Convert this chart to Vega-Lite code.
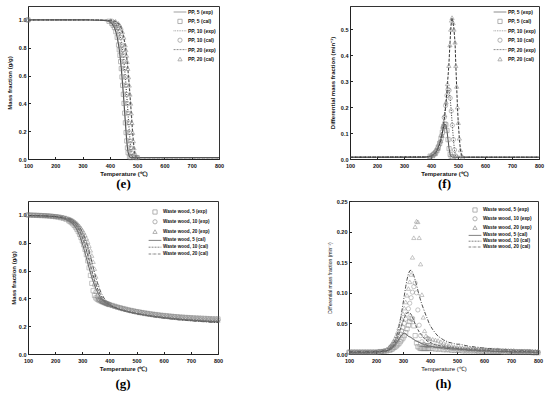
{
"$schema":"https://vega.github.io/schema/vega-lite/v6.json",
"padding":{"left":5,"top":5,"right":0,"bottom":0},
"background":"white",
"spacing":6,
"resolve":{"scale":{"shape":"independent","stroke":"independent","strokeDash":"independent"},"legend":{"shape":"independent","stroke":"independent","strokeDash":"independent"}},
"config":{
 "font":"Liberation Sans",
 "view":{"stroke":"#333","strokeWidth":1},
 "axis":{"grid":false,"labelFont":"Liberation Sans","labelFontSize":5.5,"labelFontWeight":"bold","labelColor":"#111","titleFont":"Liberation Sans","titleFontSize":6,"titleFontWeight":"bold","titleColor":"#111","domainColor":"#222","tickColor":"#222","tickSize":-2.5,"labelPadding":4.5,"labelFlush":false,"titlePadding":3},
 "axisX":{"labelPadding":6.5,"titlePadding":2},
 "legend":{"title":null,"orient":"top-right","offset":3,"symbolSize":18,"symbolStrokeWidth":0.8,"labelFont":"Liberation Sans","labelFontSize":5,"labelFontWeight":"bold","labelColor":"#111","labelOffset":5,"rowPadding":2.4,"padding":0}
},
"datasets":{
"pe":[
{"e":"e5","c":"c5","T":100,"v":1},{"e":"e5","c":"c5","T":300,"v":1},{"e":"e5","c":"c5","T":350,"v":0.999},{"e":"e5","c":"c5","T":380,"v":0.996},{"e":"e5","c":"c5","T":397,"v":0.99},{"e":"e5","c":"c5","T":407,"v":0.975},{"e":"e5","c":"c5","T":412,"v":0.962},{"e":"e5","c":"c5","T":417,"v":0.945},{"e":"e5","c":"c5","T":422,"v":0.915},{"e":"e5","c":"c5","T":427,"v":0.875},{"e":"e5","c":"c5","T":432,"v":0.82},{"e":"e5","c":"c5","T":434.5,"v":0.785},{"e":"e5","c":"c5","T":437,"v":0.745},{"e":"e5","c":"c5","T":439.5,"v":0.7},{"e":"e5","c":"c5","T":442,"v":0.65},{"e":"e5","c":"c5","T":444.5,"v":0.59},{"e":"e5","c":"c5","T":447,"v":0.53},{"e":"e5","c":"c5","T":449.5,"v":0.465},{"e":"e5","c":"c5","T":452,"v":0.4},{"e":"e5","c":"c5","T":454.5,"v":0.33},{"e":"e5","c":"c5","T":457,"v":0.26},{"e":"e5","c":"c5","T":459.5,"v":0.19},{"e":"e5","c":"c5","T":462,"v":0.13},{"e":"e5","c":"c5","T":464.5,"v":0.08},{"e":"e5","c":"c5","T":467,"v":0.045},{"e":"e5","c":"c5","T":472,"v":0.015},{"e":"e5","c":"c5","T":477,"v":0.01},{"e":"e5","c":"c5","T":500,"v":0.01},{"e":"e5","c":"c5","T":800,"v":0.01},
{"e":"e10","c":"c10","T":100,"v":1},{"e":"e10","c":"c10","T":300,"v":1},{"e":"e10","c":"c10","T":360,"v":0.999},{"e":"e10","c":"c10","T":392,"v":0.996},{"e":"e10","c":"c10","T":409,"v":0.99},{"e":"e10","c":"c10","T":419,"v":0.975},{"e":"e10","c":"c10","T":424,"v":0.962},{"e":"e10","c":"c10","T":429,"v":0.945},{"e":"e10","c":"c10","T":434,"v":0.915},{"e":"e10","c":"c10","T":439,"v":0.875},{"e":"e10","c":"c10","T":444,"v":0.82},{"e":"e10","c":"c10","T":446.5,"v":0.785},{"e":"e10","c":"c10","T":449,"v":0.745},{"e":"e10","c":"c10","T":451.5,"v":0.7},{"e":"e10","c":"c10","T":454,"v":0.65},{"e":"e10","c":"c10","T":456.5,"v":0.59},{"e":"e10","c":"c10","T":459,"v":0.53},{"e":"e10","c":"c10","T":461.5,"v":0.465},{"e":"e10","c":"c10","T":464,"v":0.4},{"e":"e10","c":"c10","T":466.5,"v":0.33},{"e":"e10","c":"c10","T":469,"v":0.26},{"e":"e10","c":"c10","T":471.5,"v":0.19},{"e":"e10","c":"c10","T":474,"v":0.13},{"e":"e10","c":"c10","T":476.5,"v":0.08},{"e":"e10","c":"c10","T":479,"v":0.045},{"e":"e10","c":"c10","T":484,"v":0.015},{"e":"e10","c":"c10","T":489,"v":0.01},{"e":"e10","c":"c10","T":500,"v":0.01},{"e":"e10","c":"c10","T":800,"v":0.01},
{"e":"e20","c":"c20","T":100,"v":1},{"e":"e20","c":"c20","T":300,"v":1},{"e":"e20","c":"c20","T":370,"v":0.999},{"e":"e20","c":"c20","T":404,"v":0.996},{"e":"e20","c":"c20","T":421,"v":0.99},{"e":"e20","c":"c20","T":431,"v":0.975},{"e":"e20","c":"c20","T":436,"v":0.962},{"e":"e20","c":"c20","T":441,"v":0.945},{"e":"e20","c":"c20","T":446,"v":0.915},{"e":"e20","c":"c20","T":451,"v":0.875},{"e":"e20","c":"c20","T":456,"v":0.82},{"e":"e20","c":"c20","T":458.5,"v":0.785},{"e":"e20","c":"c20","T":461,"v":0.745},{"e":"e20","c":"c20","T":463.5,"v":0.7},{"e":"e20","c":"c20","T":466,"v":0.65},{"e":"e20","c":"c20","T":468.5,"v":0.59},{"e":"e20","c":"c20","T":471,"v":0.53},{"e":"e20","c":"c20","T":473.5,"v":0.465},{"e":"e20","c":"c20","T":476,"v":0.4},{"e":"e20","c":"c20","T":478.5,"v":0.33},{"e":"e20","c":"c20","T":481,"v":0.26},{"e":"e20","c":"c20","T":483.5,"v":0.19},{"e":"e20","c":"c20","T":486,"v":0.13},{"e":"e20","c":"c20","T":488.5,"v":0.08},{"e":"e20","c":"c20","T":491,"v":0.045},{"e":"e20","c":"c20","T":496,"v":0.015},{"e":"e20","c":"c20","T":501,"v":0.01},{"e":"e20","c":"c20","T":510,"v":0.01},{"e":"e20","c":"c20","T":800,"v":0.01}
],
"pf":[
{"e":"e5","c":"c5","T":100,"v":0.007},{"e":"e5","c":"c5","T":380,"v":0.007},{"e":"e5","c":"c5","T":390,"v":0.009},{"e":"e5","c":"c5","T":397,"v":0.011},{"e":"e5","c":"c5","T":407,"v":0.015},{"e":"e5","c":"c5","T":412,"v":0.02},{"e":"e5","c":"c5","T":417,"v":0.025},{"e":"e5","c":"c5","T":422,"v":0.032},{"e":"e5","c":"c5","T":427,"v":0.045},{"e":"e5","c":"c5","T":432,"v":0.06},{"e":"e5","c":"c5","T":437,"v":0.08},{"e":"e5","c":"c5","T":442,"v":0.103},{"e":"e5","c":"c5","T":447,"v":0.125},{"e":"e5","c":"c5","T":451,"v":0.135},{"e":"e5","c":"c5","T":455,"v":0.132},{"e":"e5","c":"c5","T":459,"v":0.11},{"e":"e5","c":"c5","T":463,"v":0.075},{"e":"e5","c":"c5","T":467,"v":0.04},{"e":"e5","c":"c5","T":471,"v":0.018},{"e":"e5","c":"c5","T":475,"v":0.009},{"e":"e5","c":"c5","T":480,"v":0.007},{"e":"e5","c":"c5","T":800,"v":0.007},
{"e":"e10","c":"c10","T":100,"v":0.007},{"e":"e10","c":"c10","T":390,"v":0.008},{"e":"e10","c":"c10","T":400,"v":0.011},{"e":"e10","c":"c10","T":409,"v":0.018},{"e":"e10","c":"c10","T":419,"v":0.03},{"e":"e10","c":"c10","T":424,"v":0.04},{"e":"e10","c":"c10","T":429,"v":0.052},{"e":"e10","c":"c10","T":434,"v":0.066},{"e":"e10","c":"c10","T":439,"v":0.09},{"e":"e10","c":"c10","T":444,"v":0.12},{"e":"e10","c":"c10","T":449,"v":0.16},{"e":"e10","c":"c10","T":454,"v":0.206},{"e":"e10","c":"c10","T":459,"v":0.245},{"e":"e10","c":"c10","T":463,"v":0.268},{"e":"e10","c":"c10","T":467,"v":0.265},{"e":"e10","c":"c10","T":471,"v":0.235},{"e":"e10","c":"c10","T":475,"v":0.185},{"e":"e10","c":"c10","T":479,"v":0.13},{"e":"e10","c":"c10","T":483,"v":0.075},{"e":"e10","c":"c10","T":487,"v":0.035},{"e":"e10","c":"c10","T":491,"v":0.012},{"e":"e10","c":"c10","T":495,"v":0.007},{"e":"e10","c":"c10","T":800,"v":0.007},
{"e":"e20","c":"c20","T":100,"v":0.007},{"e":"e20","c":"c20","T":395,"v":0.008},{"e":"e20","c":"c20","T":406,"v":0.012},{"e":"e20","c":"c20","T":416,"v":0.02},{"e":"e20","c":"c20","T":426,"v":0.04},{"e":"e20","c":"c20","T":436,"v":0.07},{"e":"e20","c":"c20","T":441,"v":0.09},{"e":"e20","c":"c20","T":446,"v":0.125},{"e":"e20","c":"c20","T":451,"v":0.17},{"e":"e20","c":"c20","T":456,"v":0.22},{"e":"e20","c":"c20","T":461,"v":0.29},{"e":"e20","c":"c20","T":466,"v":0.36},{"e":"e20","c":"c20","T":470,"v":0.44},{"e":"e20","c":"c20","T":473,"v":0.5},{"e":"e20","c":"c20","T":476,"v":0.535},{"e":"e20","c":"c20","T":478,"v":0.545},{"e":"e20","c":"c20","T":482,"v":0.525},{"e":"e20","c":"c20","T":485,"v":0.5},{"e":"e20","c":"c20","T":489,"v":0.45},{"e":"e20","c":"c20","T":492,"v":0.36},{"e":"e20","c":"c20","T":495,"v":0.28},{"e":"e20","c":"c20","T":498,"v":0.2},{"e":"e20","c":"c20","T":501,"v":0.14},{"e":"e20","c":"c20","T":505,"v":0.08},{"e":"e20","c":"c20","T":509,"v":0.035},{"e":"e20","c":"c20","T":513,"v":0.015},{"e":"e20","c":"c20","T":517,"v":0.007},{"e":"e20","c":"c20","T":800,"v":0.007}
],
"pg":[
{"T":100,"e5":1.0,"e10":1.0,"e20":1.0,"c5":0.995,"c10":0.995,"c20":0.995},
{"T":110,"e5":0.999,"e10":0.999,"e20":0.999,"c5":0.995,"c10":0.995,"c20":0.995},
{"T":120,"e5":0.998,"e10":0.998,"e20":0.999,"c5":0.994,"c10":0.995,"c20":0.995},
{"T":130,"e5":0.997,"e10":0.998,"e20":0.998,"c5":0.994,"c10":0.994,"c20":0.995},
{"T":140,"e5":0.996,"e10":0.997,"e20":0.998,"c5":0.993,"c10":0.994,"c20":0.994},
{"T":150,"e5":0.995,"e10":0.996,"e20":0.997,"c5":0.993,"c10":0.993,"c20":0.994},
{"T":160,"e5":0.994,"e10":0.995,"e20":0.996,"c5":0.992,"c10":0.993,"c20":0.993},
{"T":170,"e5":0.993,"e10":0.994,"e20":0.995,"c5":0.991,"c10":0.992,"c20":0.993},
{"T":180,"e5":0.991,"e10":0.993,"e20":0.994,"c5":0.99,"c10":0.991,"c20":0.992},
{"T":190,"e5":0.989,"e10":0.991,"e20":0.993,"c5":0.988,"c10":0.99,"c20":0.991},
{"T":200,"e5":0.987,"e10":0.989,"e20":0.991,"c5":0.986,"c10":0.988,"c20":0.99},
{"T":210,"e5":0.984,"e10":0.987,"e20":0.989,"c5":0.983,"c10":0.986,"c20":0.988},
{"T":220,"e5":0.98,"e10":0.984,"e20":0.987,"c5":0.979,"c10":0.983,"c20":0.986},
{"T":230,"e5":0.975,"e10":0.98,"e20":0.984,"c5":0.974,"c10":0.979,"c20":0.983},
{"T":240,"e5":0.968,"e10":0.975,"e20":0.98,"c5":0.967,"c10":0.974,"c20":0.979},
{"T":250,"e5":0.958,"e10":0.967,"e20":0.974,"c5":0.958,"c10":0.967,"c20":0.974},
{"T":255,"e5":0.952,"e10":0.962,"e20":0.97,"c5":0.953,"c10":0.963,"c20":0.971},
{"T":260,"e5":0.945,"e10":0.957,"e20":0.966,"c5":0.947,"c10":0.958,"c20":0.967},
{"T":265,"e5":0.936,"e10":0.95,"e20":0.961,"c5":0.937,"c10":0.951,"c20":0.962},
{"T":270,"e5":0.925,"e10":0.941,"e20":0.955,"c5":0.925,"c10":0.942,"c20":0.955},
{"T":275,"e5":0.912,"e10":0.931,"e20":0.948,"c5":0.911,"c10":0.931,"c20":0.947},
{"T":280,"e5":0.897,"e10":0.919,"e20":0.94,"c5":0.893,"c10":0.918,"c20":0.937},
{"T":285,"e5":0.88,"e10":0.905,"e20":0.93,"c5":0.873,"c10":0.903,"c20":0.926},
{"T":290,"e5":0.86,"e10":0.889,"e20":0.919,"c5":0.85,"c10":0.885,"c20":0.912},
{"T":295,"e5":0.838,"e10":0.871,"e20":0.906,"c5":0.824,"c10":0.864,"c20":0.896},
{"T":300,"e5":0.813,"e10":0.851,"e20":0.891,"c5":0.795,"c10":0.84,"c20":0.878},
{"T":305,"e5":0.785,"e10":0.828,"e20":0.874,"c5":0.763,"c10":0.813,"c20":0.857},
{"T":310,"e5":0.752,"e10":0.802,"e20":0.855,"c5":0.728,"c10":0.782,"c20":0.832},
{"T":315,"e5":0.714,"e10":0.772,"e20":0.833,"c5":0.692,"c10":0.748,"c20":0.804},
{"T":320,"e5":0.67,"e10":0.738,"e20":0.808,"c5":0.655,"c10":0.712,"c20":0.773},
{"T":325,"e5":0.62,"e10":0.699,"e20":0.779,"c5":0.62,"c10":0.675,"c20":0.738},
{"T":330,"e5":0.565,"e10":0.655,"e20":0.746,"c5":0.585,"c10":0.637,"c20":0.702},
{"T":335,"e5":0.508,"e10":0.605,"e20":0.708,"c5":0.553,"c10":0.6,"c20":0.664},
{"T":340,"e5":0.455,"e10":0.55,"e20":0.664,"c5":0.522,"c10":0.565,"c20":0.625},
{"T":345,"e5":0.42,"e10":0.495,"e20":0.614,"c5":0.495,"c10":0.532,"c20":0.587},
{"T":350,"e5":0.403,"e10":0.447,"e20":0.558,"c5":0.47,"c10":0.502,"c20":0.55},
{"T":355,"e5":0.394,"e10":0.412,"e20":0.5,"c5":0.449,"c10":0.475,"c20":0.517},
{"T":360,"e5":0.388,"e10":0.395,"e20":0.448,"c5":0.43,"c10":0.452,"c20":0.487},
{"T":365,"e5":0.383,"e10":0.386,"e20":0.41,"c5":0.414,"c10":0.432,"c20":0.461},
{"T":370,"e5":0.378,"e10":0.38,"e20":0.39,"c5":0.4,"c10":0.415,"c20":0.438},
{"T":375,"e5":0.374,"e10":0.375,"e20":0.38,"c5":0.388,"c10":0.4,"c20":0.419},
{"T":380,"e5":0.37,"e10":0.371,"e20":0.373,"c5":0.378,"c10":0.388,"c20":0.402},
{"T":385,"e5":0.366,"e10":0.367,"e20":0.368,"c5":0.37,"c10":0.377,"c20":0.389},
{"T":390,"e5":0.362,"e10":0.363,"e20":0.364,"c5":0.362,"c10":0.368,"c20":0.378},
{"T":395,"e5":0.358,"e10":0.359,"e20":0.36,"c5":0.356,"c10":0.36,"c20":0.368},
{"T":400,"e5":0.355,"e10":0.356,"e20":0.356,"c5":0.35,"c10":0.354,"c20":0.36},
{"T":410,"e5":0.349,"e10":0.349,"e20":0.349,"c5":0.341,"c10":0.343,"c20":0.348},
{"T":420,"e5":0.343,"e10":0.343,"e20":0.342,"c5":0.332,"c10":0.334,"c20":0.337},
{"T":430,"e5":0.337,"e10":0.337,"e20":0.336,"c5":0.325,"c10":0.327,"c20":0.329},
{"T":440,"e5":0.332,"e10":0.332,"e20":0.33,"c5":0.319,"c10":0.32,"c20":0.321},
{"T":450,"e5":0.327,"e10":0.327,"e20":0.324,"c5":0.313,"c10":0.314,"c20":0.315},
{"T":460,"e5":0.322,"e10":0.322,"e20":0.319,"c5":0.308,"c10":0.309,"c20":0.309},
{"T":470,"e5":0.317,"e10":0.317,"e20":0.314,"c5":0.303,"c10":0.304,"c20":0.304},
{"T":480,"e5":0.313,"e10":0.313,"e20":0.309,"c5":0.299,"c10":0.299,"c20":0.299},
{"T":490,"e5":0.309,"e10":0.309,"e20":0.305,"c5":0.295,"c10":0.295,"c20":0.294},
{"T":500,"e5":0.305,"e10":0.305,"e20":0.3,"c5":0.291,"c10":0.291,"c20":0.29},
{"T":510,"e5":0.302,"e10":0.301,"e20":0.296,"c5":0.288,"c10":0.287,"c20":0.286},
{"T":520,"e5":0.298,"e10":0.298,"e20":0.293,"c5":0.284,"c10":0.284,"c20":0.282},
{"T":530,"e5":0.295,"e10":0.294,"e20":0.289,"c5":0.281,"c10":0.28,"c20":0.279},
{"T":540,"e5":0.292,"e10":0.291,"e20":0.286,"c5":0.278,"c10":0.277,"c20":0.275},
{"T":550,"e5":0.289,"e10":0.288,"e20":0.283,"c5":0.275,"c10":0.274,"c20":0.272},
{"T":560,"e5":0.286,"e10":0.285,"e20":0.28,"c5":0.272,"c10":0.271,"c20":0.269},
{"T":570,"e5":0.284,"e10":0.282,"e20":0.277,"c5":0.27,"c10":0.268,"c20":0.266},
{"T":580,"e5":0.281,"e10":0.28,"e20":0.275,"c5":0.267,"c10":0.266,"c20":0.263},
{"T":590,"e5":0.279,"e10":0.277,"e20":0.272,"c5":0.265,"c10":0.263,"c20":0.261},
{"T":600,"e5":0.277,"e10":0.275,"e20":0.27,"c5":0.262,"c10":0.261,"c20":0.258},
{"T":610,"e5":0.275,"e10":0.273,"e20":0.268,"c5":0.26,"c10":0.258,"c20":0.256},
{"T":620,"e5":0.273,"e10":0.271,"e20":0.266,"c5":0.258,"c10":0.256,"c20":0.254},
{"T":630,"e5":0.271,"e10":0.269,"e20":0.264,"c5":0.256,"c10":0.254,"c20":0.251},
{"T":640,"e5":0.269,"e10":0.267,"e20":0.262,"c5":0.254,"c10":0.252,"c20":0.249},
{"T":650,"e5":0.268,"e10":0.265,"e20":0.26,"c5":0.252,"c10":0.25,"c20":0.247},
{"T":660,"e5":0.266,"e10":0.263,"e20":0.258,"c5":0.25,"c10":0.248,"c20":0.245},
{"T":670,"e5":0.265,"e10":0.262,"e20":0.257,"c5":0.248,"c10":0.246,"c20":0.243},
{"T":680,"e5":0.263,"e10":0.26,"e20":0.255,"c5":0.247,"c10":0.245,"c20":0.242},
{"T":690,"e5":0.262,"e10":0.259,"e20":0.254,"c5":0.245,"c10":0.243,"c20":0.24},
{"T":700,"e5":0.261,"e10":0.257,"e20":0.252,"c5":0.244,"c10":0.242,"c20":0.239},
{"T":710,"e5":0.26,"e10":0.256,"e20":0.251,"c5":0.242,"c10":0.24,"c20":0.237},
{"T":720,"e5":0.259,"e10":0.255,"e20":0.25,"c5":0.241,"c10":0.239,"c20":0.236},
{"T":730,"e5":0.258,"e10":0.254,"e20":0.249,"c5":0.24,"c10":0.238,"c20":0.235},
{"T":740,"e5":0.257,"e10":0.252,"e20":0.247,"c5":0.238,"c10":0.236,"c20":0.233},
{"T":750,"e5":0.256,"e10":0.251,"e20":0.246,"c5":0.237,"c10":0.235,"c20":0.232},
{"T":760,"e5":0.255,"e10":0.25,"e20":0.245,"c5":0.236,"c10":0.234,"c20":0.231},
{"T":770,"e5":0.254,"e10":0.249,"e20":0.244,"c5":0.235,"c10":0.232,"c20":0.229},
{"T":780,"e5":0.253,"e10":0.248,"e20":0.243,"c5":0.234,"c10":0.231,"c20":0.228},
{"T":790,"e5":0.253,"e10":0.247,"e20":0.242,"c5":0.233,"c10":0.23,"c20":0.227},
{"T":800,"e5":0.252,"e10":0.246,"e20":0.241,"c5":0.232,"c10":0.229,"c20":0.226}
],
"ph":[
{"T":100,"e5":0.003,"e10":0.003,"e20":0.004,"c5":0.002,"c10":0.003,"c20":0.004},
{"T":110,"e5":0.003,"e10":0.003,"e20":0.004,"c5":0.002,"c10":0.003,"c20":0.004},
{"T":120,"e5":0.003,"e10":0.003,"e20":0.004,"c5":0.002,"c10":0.003,"c20":0.004},
{"T":130,"e5":0.003,"e10":0.003,"e20":0.004,"c5":0.002,"c10":0.003,"c20":0.004},
{"T":140,"e5":0.003,"e10":0.003,"e20":0.004,"c5":0.002,"c10":0.003,"c20":0.004},
{"T":150,"e5":0.003,"e10":0.003,"e20":0.004,"c5":0.002,"c10":0.003,"c20":0.004},
{"T":160,"e5":0.003,"e10":0.003,"e20":0.004,"c5":0.002,"c10":0.003,"c20":0.004},
{"T":170,"e5":0.003,"e10":0.003,"e20":0.004,"c5":0.002,"c10":0.003,"c20":0.004},
{"T":180,"e5":0.003,"e10":0.003,"e20":0.004,"c5":0.003,"c10":0.003,"c20":0.004},
{"T":190,"e5":0.003,"e10":0.003,"e20":0.004,"c5":0.003,"c10":0.003,"c20":0.004},
{"T":200,"e5":0.003,"e10":0.003,"e20":0.004,"c5":0.003,"c10":0.004,"c20":0.005},
{"T":210,"e5":0.003,"e10":0.004,"e20":0.005,"c5":0.003,"c10":0.004,"c20":0.005},
{"T":220,"e5":0.004,"e10":0.004,"e20":0.005,"c5":0.004,"c10":0.004,"c20":0.005},
{"T":230,"e5":0.004,"e10":0.005,"e20":0.006,"c5":0.004,"c10":0.005,"c20":0.006},
{"T":240,"e5":0.005,"e10":0.006,"e20":0.008,"c5":0.005,"c10":0.005,"c20":0.006},
{"T":250,"e5":0.006,"e10":0.009,"e20":0.012,"c5":0.007,"c10":0.007,"c20":0.009},
{"T":255,"e5":0.007,"e10":0.011,"e20":0.014,"c5":0.008,"c10":0.009,"c20":0.011},
{"T":260,"e5":0.008,"e10":0.013,"e20":0.017,"c5":0.01,"c10":0.011,"c20":0.014},
{"T":265,"e5":0.01,"e10":0.015,"e20":0.021,"c5":0.012,"c10":0.014,"c20":0.018},
{"T":270,"e5":0.011,"e10":0.018,"e20":0.025,"c5":0.015,"c10":0.017,"c20":0.022},
{"T":275,"e5":0.013,"e10":0.021,"e20":0.03,"c5":0.018,"c10":0.022,"c20":0.028},
{"T":280,"e5":0.015,"e10":0.025,"e20":0.036,"c5":0.021,"c10":0.027,"c20":0.035},
{"T":285,"e5":0.017,"e10":0.029,"e20":0.043,"c5":0.025,"c10":0.033,"c20":0.045},
{"T":290,"e5":0.02,"e10":0.033,"e20":0.05,"c5":0.028,"c10":0.04,"c20":0.055},
{"T":295,"e5":0.023,"e10":0.038,"e20":0.058,"c5":0.031,"c10":0.047,"c20":0.068},
{"T":300,"e5":0.026,"e10":0.043,"e20":0.066,"c5":0.033,"c10":0.053,"c20":0.082},
{"T":305,"e5":0.03,"e10":0.05,"e20":0.075,"c5":0.034,"c10":0.059,"c20":0.096},
{"T":310,"e5":0.035,"e10":0.057,"e20":0.085,"c5":0.033,"c10":0.064,"c20":0.11},
{"T":315,"e5":0.041,"e10":0.065,"e20":0.096,"c5":0.031,"c10":0.067,"c20":0.122},
{"T":320,"e5":0.047,"e10":0.074,"e20":0.107,"c5":0.029,"c10":0.068,"c20":0.131},
{"T":325,"e5":0.053,"e10":0.083,"e20":0.118,"c5":0.028,"c10":0.067,"c20":0.136},
{"T":330,"e5":0.058,"e10":0.092,"e20":0.13,"c5":0.027,"c10":0.065,"c20":0.137},
{"T":335,"e5":0.057,"e10":0.101,"e20":0.158,"c5":0.025,"c10":0.06,"c20":0.134},
{"T":340,"e5":0.046,"e10":0.11,"e20":0.19,"c5":0.024,"c10":0.055,"c20":0.128},
{"T":345,"e5":0.03,"e10":0.116,"e20":0.208,"c5":0.022,"c10":0.049,"c20":0.121},
{"T":350,"e5":0.018,"e10":0.1,"e20":0.217,"c5":0.021,"c10":0.044,"c20":0.113},
{"T":355,"e5":0.012,"e10":0.072,"e20":0.216,"c5":0.02,"c10":0.04,"c20":0.104},
{"T":360,"e5":0.01,"e10":0.047,"e20":0.19,"c5":0.019,"c10":0.036,"c20":0.096},
{"T":365,"e5":0.009,"e10":0.03,"e20":0.147,"c5":0.018,"c10":0.033,"c20":0.088},
{"T":370,"e5":0.009,"e10":0.02,"e20":0.097,"c5":0.017,"c10":0.03,"c20":0.081},
{"T":375,"e5":0.009,"e10":0.016,"e20":0.06,"c5":0.016,"c10":0.027,"c20":0.075},
{"T":380,"e5":0.009,"e10":0.015,"e20":0.038,"c5":0.015,"c10":0.025,"c20":0.069},
{"T":385,"e5":0.009,"e10":0.014,"e20":0.03,"c5":0.015,"c10":0.023,"c20":0.063},
{"T":390,"e5":0.009,"e10":0.014,"e20":0.027,"c5":0.014,"c10":0.021,"c20":0.058},
{"T":395,"e5":0.009,"e10":0.014,"e20":0.026,"c5":0.013,"c10":0.02,"c20":0.052},
{"T":400,"e5":0.009,"e10":0.014,"e20":0.025,"c5":0.013,"c10":0.019,"c20":0.047},
{"T":410,"e5":0.009,"e10":0.013,"e20":0.024,"c5":0.012,"c10":0.017,"c20":0.04},
{"T":420,"e5":0.008,"e10":0.013,"e20":0.023,"c5":0.011,"c10":0.015,"c20":0.034},
{"T":430,"e5":0.008,"e10":0.012,"e20":0.022,"c5":0.011,"c10":0.014,"c20":0.029},
{"T":440,"e5":0.008,"e10":0.012,"e20":0.02,"c5":0.01,"c10":0.013,"c20":0.026},
{"T":450,"e5":0.007,"e10":0.011,"e20":0.018,"c5":0.01,"c10":0.012,"c20":0.023},
{"T":460,"e5":0.007,"e10":0.01,"e20":0.016,"c5":0.009,"c10":0.011,"c20":0.021},
{"T":470,"e5":0.007,"e10":0.01,"e20":0.014,"c5":0.009,"c10":0.011,"c20":0.019},
{"T":480,"e5":0.006,"e10":0.009,"e20":0.013,"c5":0.008,"c10":0.01,"c20":0.018},
{"T":490,"e5":0.006,"e10":0.009,"e20":0.012,"c5":0.008,"c10":0.01,"c20":0.017},
{"T":500,"e5":0.006,"e10":0.008,"e20":0.011,"c5":0.008,"c10":0.009,"c20":0.016},
{"T":510,"e5":0.006,"e10":0.008,"e20":0.011,"c5":0.007,"c10":0.009,"c20":0.016},
{"T":520,"e5":0.005,"e10":0.008,"e20":0.01,"c5":0.007,"c10":0.008,"c20":0.015},
{"T":530,"e5":0.005,"e10":0.007,"e20":0.01,"c5":0.007,"c10":0.008,"c20":0.014},
{"T":540,"e5":0.005,"e10":0.007,"e20":0.009,"c5":0.006,"c10":0.008,"c20":0.013},
{"T":550,"e5":0.005,"e10":0.007,"e20":0.009,"c5":0.006,"c10":0.007,"c20":0.012},
{"T":560,"e5":0.005,"e10":0.007,"e20":0.009,"c5":0.006,"c10":0.007,"c20":0.012},
{"T":570,"e5":0.005,"e10":0.006,"e20":0.008,"c5":0.006,"c10":0.007,"c20":0.011},
{"T":580,"e5":0.004,"e10":0.006,"e20":0.008,"c5":0.005,"c10":0.006,"c20":0.011},
{"T":590,"e5":0.004,"e10":0.006,"e20":0.008,"c5":0.005,"c10":0.006,"c20":0.01},
{"T":600,"e5":0.004,"e10":0.006,"e20":0.008,"c5":0.005,"c10":0.006,"c20":0.01},
{"T":610,"e5":0.004,"e10":0.006,"e20":0.007,"c5":0.005,"c10":0.006,"c20":0.009},
{"T":620,"e5":0.004,"e10":0.005,"e20":0.007,"c5":0.005,"c10":0.006,"c20":0.009},
{"T":630,"e5":0.004,"e10":0.005,"e20":0.007,"c5":0.004,"c10":0.005,"c20":0.009},
{"T":640,"e5":0.004,"e10":0.005,"e20":0.007,"c5":0.004,"c10":0.005,"c20":0.008},
{"T":650,"e5":0.004,"e10":0.005,"e20":0.007,"c5":0.004,"c10":0.005,"c20":0.008},
{"T":660,"e5":0.004,"e10":0.005,"e20":0.006,"c5":0.004,"c10":0.005,"c20":0.008},
{"T":670,"e5":0.003,"e10":0.005,"e20":0.006,"c5":0.004,"c10":0.005,"c20":0.007},
{"T":680,"e5":0.003,"e10":0.005,"e20":0.006,"c5":0.004,"c10":0.005,"c20":0.007},
{"T":690,"e5":0.003,"e10":0.004,"e20":0.006,"c5":0.004,"c10":0.004,"c20":0.007},
{"T":700,"e5":0.003,"e10":0.004,"e20":0.006,"c5":0.003,"c10":0.004,"c20":0.007},
{"T":710,"e5":0.003,"e10":0.004,"e20":0.006,"c5":0.003,"c10":0.004,"c20":0.006},
{"T":720,"e5":0.003,"e10":0.004,"e20":0.005,"c5":0.003,"c10":0.004,"c20":0.006},
{"T":730,"e5":0.003,"e10":0.004,"e20":0.005,"c5":0.003,"c10":0.004,"c20":0.006},
{"T":740,"e5":0.003,"e10":0.004,"e20":0.005,"c5":0.003,"c10":0.004,"c20":0.006},
{"T":750,"e5":0.003,"e10":0.004,"e20":0.005,"c5":0.003,"c10":0.004,"c20":0.006},
{"T":760,"e5":0.003,"e10":0.004,"e20":0.005,"c5":0.003,"c10":0.004,"c20":0.005},
{"T":770,"e5":0.003,"e10":0.004,"e20":0.005,"c5":0.003,"c10":0.003,"c20":0.005},
{"T":780,"e5":0.002,"e10":0.003,"e20":0.005,"c5":0.003,"c10":0.003,"c20":0.005},
{"T":790,"e5":0.002,"e10":0.003,"e20":0.005,"c5":0.002,"c10":0.003,"c20":0.005},
{"T":800,"e5":0.002,"e10":0.003,"e20":0.005,"c5":0.002,"c10":0.003,"c20":0.005}
]
},
"vconcat":[
{"spacing":103,
 "resolve":{"scale":{"shape":"independent","stroke":"independent","strokeDash":"independent"},"legend":{"shape":"independent","stroke":"independent","strokeDash":"independent"}},
 "hconcat":[
 {"width":191,"height":153,
  "title":{"text":"(e)","orient":"bottom","offset":1.5,"font":"Liberation Serif","fontSize":13,"fontWeight":"bold","color":"#000"},
  "data":{"name":"pe"},
  "encoding":{
   "x":{"field":"T","type":"quantitative","scale":{"domain":[100,800]},"axis":{"values":[100,200,300,400,500,600,700,800],"format":"d","title":"Temperature (℃)"}},
   "y":{"field":"v","type":"quantitative","scale":{"domain":[0,1.1]},"axis":{"values":[0,0.2,0.4,0.6,0.8,1.0],"format":".1f","title":"Mass fraction (g/g)","titlePadding":6}}
  },
  "layer":[
   {"mark":{"type":"line","strokeWidth":1.2,"color":"#555"},
    "encoding":{"strokeDash":{"field":"e","type":"nominal","scale":{"domain":["e5","e10","e20"],"range":[[1,0],[1,1.5],[3,1.5]]},"legend":null}}},
   {"transform":[{"filter":"datum.T==100 || (datum.T>=395 && datum.T<=505)"}],
    "mark":{"type":"point","filled":false,"size":18,"strokeWidth":0.7},
    "encoding":{
     "shape":{"field":"c","type":"nominal","scale":{"domain":["e5","c5","e10","c10","e20","c20"],"range":["M-3,0H3","square","M-3,0H-2.65M-2.2,0H-1.85M-1.4,0H-1.05M-0.6,0H-0.25M0.2,0H0.55M1,0H1.35M1.8,0H2.15M2.6,0H2.95","circle","M-3,0H-2.1M-1.6,0H-0.7M-0.2,0H0.7M1.2,0H2.1M2.6,0H3","triangle-up"]},
      "legend":{"labelExpr":"datum.label=='e5'?'PP, 5 (exp)':datum.label=='c5'?'PP, 5 (cal)':datum.label=='e10'?'PP, 10 (exp)':datum.label=='c10'?'PP, 10 (cal)':datum.label=='e20'?'PP, 20 (exp)':'PP, 20 (cal)'"}},
     "stroke":{"field":"c","type":"nominal","scale":{"domain":["e5","c5","e10","c10","e20","c20"],"range":["#555","#777","#333","#777","#333","#777"]}}
    }}
  ]},
 {"width":189,"height":153,
  "title":{"text":"(f)","orient":"bottom","offset":1.5,"font":"Liberation Serif","fontSize":13,"fontWeight":"bold","color":"#000"},
  "data":{"name":"pf"},
  "encoding":{
   "x":{"field":"T","type":"quantitative","scale":{"domain":[100,800]},"axis":{"values":[100,200,300,400,500,600,700,800],"format":"d","title":"Temperature (℃)"}},
   "y":{"field":"v","type":"quantitative","scale":{"domain":[0,0.59]},"axis":{"values":[0,0.1,0.2,0.3,0.4,0.5],"format":".1f","title":"Differential mass fraction (min⁻¹)","titlePadding":5}}
  },
  "layer":[
   {"mark":{"type":"line","strokeWidth":1,"color":"#333"},
    "encoding":{"strokeDash":{"field":"e","type":"nominal","scale":{"domain":["e5","e10","e20"],"range":[[1,0],[1,1.5],[3,1.5]]},"legend":null}}},
   {"transform":[{"filter":"datum.T>=395 && datum.T<=520"}],
    "mark":{"type":"point","filled":false,"size":18,"strokeWidth":0.7},
    "encoding":{
     "shape":{"field":"c","type":"nominal","scale":{"domain":["e5","c5","e10","c10","e20","c20"],"range":["M-3,0H3","square","M-3,0H-2.65M-2.2,0H-1.85M-1.4,0H-1.05M-0.6,0H-0.25M0.2,0H0.55M1,0H1.35M1.8,0H2.15M2.6,0H2.95","circle","M-3,0H-2.1M-1.6,0H-0.7M-0.2,0H0.7M1.2,0H2.1M2.6,0H3","triangle-up"]},
      "legend":{"labelExpr":"datum.label=='e5'?'PP, 5 (exp)':datum.label=='c5'?'PP, 5 (cal)':datum.label=='e10'?'PP, 10 (exp)':datum.label=='c10'?'PP, 10 (cal)':datum.label=='e20'?'PP, 20 (exp)':'PP, 20 (cal)'"}},
     "stroke":{"field":"c","type":"nominal","scale":{"domain":["e5","c5","e10","c10","e20","c20"],"range":["#333","#777","#333","#777","#333","#777"]}}
    }}
  ]}
]},
{"spacing":102,
 "resolve":{"scale":{"shape":"independent","stroke":"independent","strokeDash":"independent"},"legend":{"shape":"independent","stroke":"independent","strokeDash":"independent"}},
 "hconcat":[
 {"width":190,"height":153,
  "title":{"text":"(g)","orient":"bottom","offset":6,"font":"Liberation Serif","fontSize":13,"fontWeight":"bold","color":"#000"},
  "data":{"name":"pg"},
  "transform":[{"fold":["e5","e10","e20","c5","c10","c20"],"as":["s","v"]}],
  "encoding":{
   "x":{"field":"T","type":"quantitative","scale":{"domain":[100,800]},"axis":{"values":[100,200,300,400,500,600,700,800],"format":"d","title":"Temperature (℃)"}},
   "y":{"field":"v","type":"quantitative","scale":{"domain":[0,1.1]},"axis":{"values":[0,0.2,0.4,0.6,0.8,1.0],"format":".1f","title":"Mass fraction (g/g)","titlePadding":2}}
  },
  "layer":[
   {"transform":[{"filter":"indexof(datum.s,'c')==0"}],
    "mark":{"type":"line","strokeWidth":0.8,"color":"#222"},
    "encoding":{"strokeDash":{"field":"s","type":"nominal","scale":{"domain":["c5","c10","c20"],"range":[[1,0],[3,1.5],[4,1.5,1,1.5]]},"legend":null}}},
   {"transform":[{"filter":"indexof(datum.s,'e')==0"}],
    "mark":{"type":"point","filled":false,"size":18,"strokeWidth":0.6},
    "encoding":{
     "shape":{"field":"s","type":"nominal","scale":{"domain":["e5","e10","e20","c5","c10","c20"],"range":["square","circle","triangle-up","M-3,0H3","M-3,0H-2.1M-1.6,0H-0.7M-0.2,0H0.7M1.2,0H2.1M2.6,0H3","M-3,0H-1.8M-1.4,0H-1.2M-0.8,0H0.4M0.8,0H1M1.4,0H2.6"]},
      "legend":{"labelFontSize":4.6,"rowPadding":1.8,"offset":8,"labelExpr":"datum.label=='e5'?'Waste wood, 5 (exp)':datum.label=='e10'?'Waste wood, 10 (exp)':datum.label=='e20'?'Waste wood, 20 (exp)':datum.label=='c5'?'Waste wood, 5 (cal)':datum.label=='c10'?'Waste wood, 10 (cal)':'Waste wood, 20 (cal)'"}},
     "stroke":{"field":"s","type":"nominal","scale":{"domain":["e5","e10","e20","c5","c10","c20"],"range":["#777","#777","#777","#222","#222","#222"]}}
    }}
  ]},
 {"width":189,"height":153,
  "title":{"text":"(h)","orient":"bottom","offset":6,"font":"Liberation Serif","fontSize":13,"fontWeight":"bold","color":"#000"},
  "data":{"name":"ph"},
  "transform":[{"fold":["e5","e10","e20","c5","c10","c20"],"as":["s","v"]}],
  "encoding":{
   "x":{"field":"T","type":"quantitative","scale":{"domain":[100,800]},"axis":{"values":[100,200,300,400,500,600,700,800],"format":"d","title":"Temperature (℃)","titleFontWeight":"normal"}},
   "y":{"field":"v","type":"quantitative","scale":{"domain":[0,0.25]},"axis":{"values":[0,0.05,0.1,0.15,0.2,0.25],"format":".2f","title":"Differential mass fraction (min⁻¹)","titleFontWeight":"normal","titleFontSize":5,"titlePadding":4}}
  },
  "layer":[
   {"transform":[{"filter":"indexof(datum.s,'c')==0"}],
    "mark":{"type":"line","strokeWidth":0.8,"color":"#222"},
    "encoding":{"strokeDash":{"field":"s","type":"nominal","scale":{"domain":["c5","c10","c20"],"range":[[1,0],[3,1.5],[4,1.5,1,1.5]]},"legend":null}}},
   {"transform":[{"filter":"indexof(datum.s,'e')==0"}],
    "mark":{"type":"point","filled":false,"size":18,"strokeWidth":0.6},
    "encoding":{
     "shape":{"field":"s","type":"nominal","scale":{"domain":["e5","e10","e20","c5","c10","c20"],"range":["square","circle","triangle-up","M-3,0H3","M-3,0H-2.1M-1.6,0H-0.7M-0.2,0H0.7M1.2,0H2.1M2.6,0H3","M-3,0H-1.8M-1.4,0H-1.2M-0.8,0H0.4M0.8,0H1M1.4,0H2.6"]},
      "legend":{"labelFontSize":4.8,"rowPadding":0.8,"offset":6,"labelExpr":"datum.label=='e5'?'Waste wood, 5 (exp)':datum.label=='e10'?'Waste wood, 10 (exp)':datum.label=='e20'?'Waste wood, 20 (exp)':datum.label=='c5'?'Waste wood, 5 (cal)':datum.label=='c10'?'Waste wood, 10 (cal)':'Waste wood, 20 (cal)'"}},
     "stroke":{"field":"s","type":"nominal","scale":{"domain":["e5","e10","e20","c5","c10","c20"],"range":["#777","#777","#777","#222","#222","#222"]}}
    }}
  ]}
]}
]
}
